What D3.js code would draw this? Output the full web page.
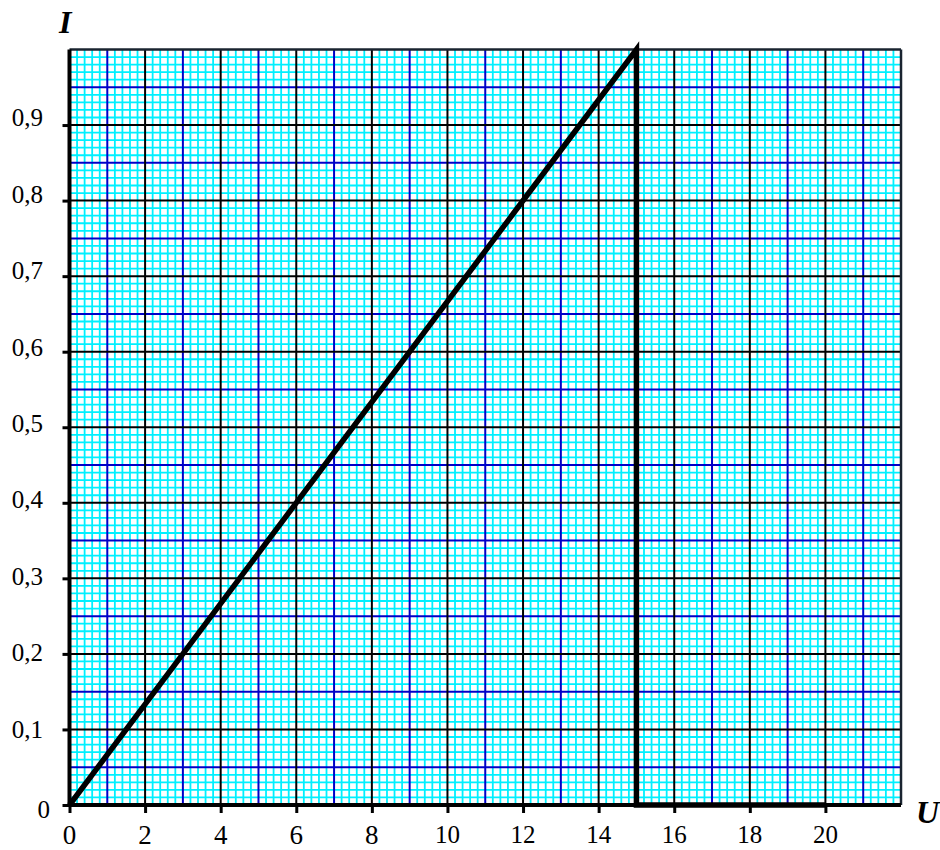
<!DOCTYPE html>
<html>
<head>
<meta charset="utf-8">
<script src="https://cdn.jsdelivr.net/npm/d3@7"></script>
<style>
  html, body { margin: 0; padding: 0; background: #fff; }
  svg { display: block; }
</style>
</head>
<body>
<svg id="chart" width="940" height="850"></svg>
<script>
// ---- data ----
const uValues = [0, 15, 15, 20];          // U
const iValues = [0, 1.0, 0, 0];           // I
const xTickValues = [0, 2, 4, 6, 8, 10, 12, 14, 16, 18, 20];
const xTickLabels = ["0", "2", "4", "6", "8", "10", "12", "14", "16", "18", "20"];
const yTickValues = [0, 0.1, 0.2, 0.3, 0.4, 0.5, 0.6, 0.7, 0.8, 0.9];
const yTickLabels = ["0", "0,1", "0,2", "0,3", "0,4", "0,5", "0,6", "0,7", "0,8", "0,9"];
const xTitle = "U";
const yTitle = "I";

const FONT = "'Liberation Serif', 'Times New Roman', 'DejaVu Serif', serif";

const svg = d3.select("#chart");
svg.append("rect").attr("width", 940).attr("height", 850).attr("fill", "#fff");

const x = d3.scaleLinear().domain([0, 22]).range([69.5, 901]);
const y = d3.scaleLinear().domain([0, 1]).range([805, 49.5]);
const yLab = d3.scaleLinear().domain([0, 1]).range([814, 50]);

const g = svg.append("g");

// minor cyan grid
const xMinor = d3.range(0, 111).filter(k => k % 5 !== 0).map(k => k / 5);
const yMinor = d3.range(0, 101).filter(k => k % 5 !== 0).map(k => k / 100);
g.selectAll("line.xm").data(xMinor).enter().append("line")
  .attr("x1", d => x(d)).attr("x2", d => x(d))
  .attr("y1", y(0)).attr("y2", y(1))
  .attr("stroke", "#00f0ff").attr("stroke-width", 1.8);
g.selectAll("line.ym").data(yMinor).enter().append("line")
  .attr("y1", d => y(d)).attr("y2", d => y(d))
  .attr("x1", x(0)).attr("x2", x(22))
  .attr("stroke", "#00f0ff").attr("stroke-width", 1.8);

// blue mid grid
const xMid = d3.range(1, 22, 2);
const yMid = d3.range(0, 10).map(k => (k * 10 + 5) / 100);
g.selectAll("line.xb").data(xMid).enter().append("line")
  .attr("x1", d => x(d)).attr("x2", d => x(d))
  .attr("y1", y(0)).attr("y2", y(1))
  .attr("stroke", "#0000c8").attr("stroke-width", 2);
g.selectAll("line.yb").data(yMid).enter().append("line")
  .attr("y1", d => y(d)).attr("y2", d => y(d))
  .attr("x1", x(0)).attr("x2", x(22))
  .attr("stroke", "#0000c8").attr("stroke-width", 2);

// black major grid
const xMaj = d3.range(2, 22, 2);
const yMaj = d3.range(1, 10).map(k => k / 10);
g.selectAll("line.xk").data(xMaj).enter().append("line")
  .attr("x1", d => x(d)).attr("x2", d => x(d))
  .attr("y1", y(0)).attr("y2", y(1))
  .attr("stroke", "#000").attr("stroke-width", 2);
g.selectAll("line.yk").data(yMaj).enter().append("line")
  .attr("y1", d => y(d)).attr("y2", d => y(d))
  .attr("x1", x(0)).attr("x2", x(22))
  .attr("stroke", "#000").attr("stroke-width", 2);

// frame (top and right)
g.append("line").attr("x1", x(0)).attr("x2", x(22)).attr("y1", y(1)).attr("y2", y(1))
  .attr("stroke", "#1a2430").attr("stroke-width", 2.5);
g.append("line").attr("x1", x(22)).attr("x2", x(22)).attr("y1", y(0)).attr("y2", y(1))
  .attr("stroke", "#1a2430").attr("stroke-width", 2.5);

// axes
const xAxis = d3.axisBottom(x).tickValues(xTickValues).tickSize(8).tickFormat("");
const yAxis = d3.axisLeft(y).tickValues(yTickValues).tickSize(7).tickFormat("");
const gx = svg.append("g").attr("transform", `translate(0,${y(0)})`).call(xAxis);
gx.select(".domain").attr("stroke", "#000").attr("stroke-width", 4).attr("d", `M${x(0)},0H${x(22)}`);
gx.selectAll(".tick line").attr("stroke", "#000").attr("stroke-width", 3);
const gy = svg.append("g").attr("transform", `translate(${x(0)},0)`).call(yAxis);
gy.select(".domain").attr("stroke", "#000").attr("stroke-width", 4).attr("d", `M0,${y(0)}V${y(1)}`);
gy.selectAll(".tick line").attr("stroke", "#000").attr("stroke-width", 3);

// x tick labels
svg.selectAll("text.xl").data(xTickValues).enter().append("text")
  .attr("class", "xl")
  .attr("x", d => x(d))
  .attr("y", d => d < 10 ? 844 : 843)
  .attr("text-anchor", "middle")
  .attr("font-family", FONT)
  .attr("font-size", d => d < 10 ? 27 : 25)
  .attr("fill", "#000")
  .text((d, i) => xTickLabels[i]);

// y tick labels
svg.selectAll("text.yl").data(yTickValues).enter().append("text")
  .attr("class", "yl")
  .attr("x", d => d === 0 ? 50 : 43)
  .attr("y", d => d === 0 ? 818 : yLab(d))
  .attr("text-anchor", "end")
  .attr("font-family", FONT)
  .attr("font-size", 25)
  .attr("fill", "#000")
  .text((d, i) => yTickLabels[i]);

// axis titles
svg.append("text").attr("x", 59).attr("y", 33)
  .attr("font-family", FONT)
  .attr("font-size", 32).attr("font-weight", "bold").attr("font-style", "italic")
  .text(yTitle);
svg.append("text").attr("x", 916).attr("y", 823)
  .attr("font-family", FONT)
  .attr("font-size", 32).attr("font-weight", "bold").attr("font-style", "italic")
  .text(xTitle);

// data line
const pts = uValues.map((u, i) => [u, iValues[i]]);
svg.append("path").datum(pts)
  .attr("d", d3.line().x(d => x(d[0])).y(d => y(d[1])))
  .attr("fill", "none").attr("stroke", "#000").attr("stroke-width", 5.5)
  .attr("stroke-linejoin", "miter").attr("stroke-miterlimit", 10);
</script>
</body>
</html>
